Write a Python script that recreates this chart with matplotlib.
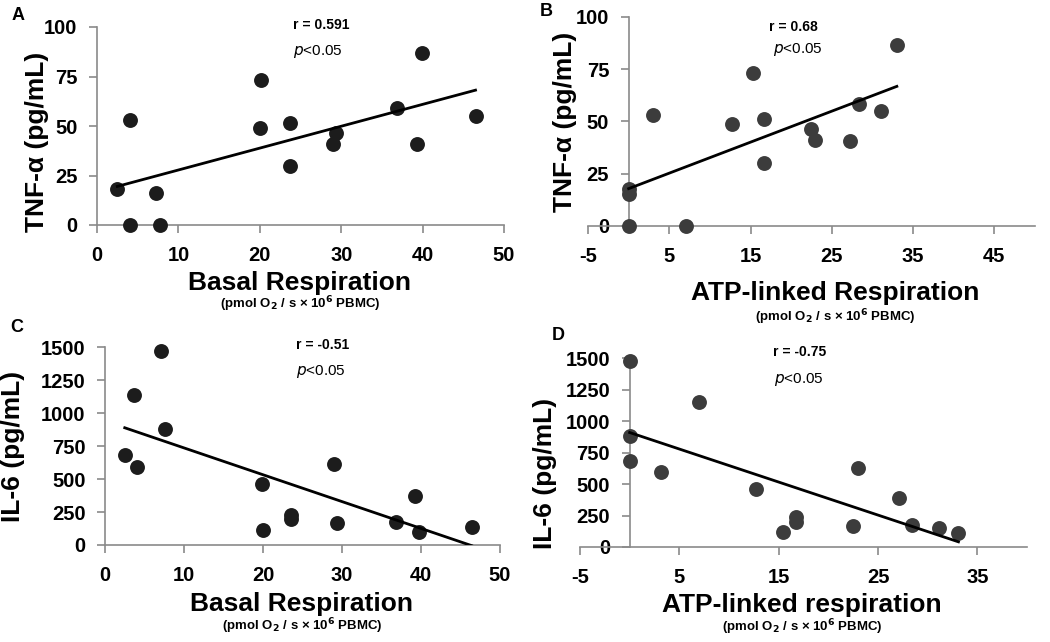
import matplotlib
matplotlib.use("Agg")
import matplotlib.pyplot as plt
import numpy as np

plt.rcParams['font.family'] = ['Liberation Sans', 'DejaVu Sans']
plt.rcParams['axes.unicode_minus'] = False

# data
basal_tnf = [2.5, 4.1, 4.0, 7.2, 7.7, 20.2, 20.0, 23.7, 23.7, 29.0, 29.4, 36.8, 39.3, 39.9, 46.5]
tnf_basal = [18.0, 53.2, 0.0, 16.0, 0.0, 73.1, 48.8, 51.7, 30.0, 41.1, 46.5, 58.9, 40.7, 86.9, 55.1]

atp_tnf = [0.0, 0.0, 0.0, 7.0, 3.0, 12.7, 15.3, 16.6, 16.6, 22.4, 22.9, 27.2, 28.3, 31.0, 33.0]
tnf_atp = [17.7, 15.5, 0.0, 0.0, 53.3, 48.8, 73.0, 51.4, 30.1, 46.6, 41.0, 40.7, 58.4, 55.0, 86.6]

basal_il6 = [2.5, 4.0, 3.7, 7.1, 7.6, 19.9, 20.0, 23.5, 23.6, 29.0, 29.4, 36.8, 39.2, 39.8, 46.4]
il6_basal = [679, 588, 1136, 1472, 879, 460, 116, 197, 225, 616, 167, 177, 374, 101, 136]

atp_il6 = [0.0, 0.0, 0.0, 3.2, 7.0, 12.7, 15.4, 16.7, 16.7, 22.5, 23.0, 27.1, 28.4, 31.1, 33.1]
il6_atp = [1475, 879, 679, 597, 1150, 462, 122, 236, 199, 170, 627, 388, 175, 149, 112]

W, H = 1050, 642
fig = plt.figure(figsize=(W / 100, H / 100), dpi=100)


def box(l, r, t, b):
    return [l / W, 1 - b / H, (r - l) / W, (b - t) / H]


panels = [
    dict(rect=box(97, 504, 27, 225), x=basal_tnf, y=tnf_basal, xlim=(0, 50), xt=range(0, 51, 10),
         ylim=(0, 100), yt=range(0, 101, 25), col='#1c1c1c', letter='A', lp=(18, 15),
         r='r = 0.591', rp=(321, 25), pp=(318, 52),
         ylab='TNF-α (pg/mL)', ylp=(37, 142), xlab='Basal Respiration', xlp=(300, 283), sp=(300, 304)),
    dict(rect=box(588, 1035, 17, 226), x=atp_tnf, y=tnf_atp, xlim=(-5, 50), xt=range(-5, 46, 10),
         ylim=(0, 100), yt=range(0, 101, 25), col='#3c3c3c', letter='B', lp=(546, 12),
         r='r = 0.68', rp=(793, 27), pp=(798, 50),
         ylab='TNF-α (pg/mL)', ylp=(565, 122), xlab='ATP-linked Respiration', xlp=(835, 293), sp=(835, 317)),
    dict(rect=box(105, 500, 347, 545), x=basal_il6, y=il6_basal, xlim=(0, 50), xt=range(0, 51, 10),
         ylim=(0, 1500), yt=range(0, 1501, 250), col='#1c1c1c', letter='C', lp=(17, 328),
         r='r = -0.51', rp=(323, 345), pp=(321, 372),
         ylab='IL-6 (pg/mL)', ylp=(13, 446), xlab='Basal Respiration', xlp=(302, 604), sp=(302, 626)),
    dict(rect=box(580, 1027, 358, 547), x=atp_il6, y=il6_atp, xlim=(-5, 40), xt=range(-5, 36, 10),
         ylim=(0, 1500), yt=range(0, 1501, 250), col='#3c3c3c', letter='D', lp=(558, 335),
         r='r = -0.75', rp=(800, 352), pp=(799, 379),
         ylab='IL-6 (pg/mL)', ylp=(545, 473), xlab='ATP-linked respiration', xlp=(802, 605), sp=(802, 627)),
]


def ftext(px, py, s, **kw):
    fig.text(px / W, 1 - py / H, s, ha='center', va='center', **kw)


for p in panels:
    ax = fig.add_axes(p['rect'])
    ax.scatter(p['x'], p['y'], s=115, color=p['col'], zorder=3, clip_on=False, linewidths=0)
    k, b = np.polyfit(p['x'], p['y'], 1)
    xs = np.array([min(p['x']), max(p['x'])])
    ax.plot(xs, k * xs + b, color='black', lw=2, zorder=4)
    ax.set_xlim(*p['xlim'])
    ax.set_ylim(*p['ylim'])
    ax.set_xticks(list(p['xt']))
    ax.set_yticks(list(p['yt']))
    for s in ['top', 'right']:
        ax.spines[s].set_visible(False)
    for s in ['left', 'bottom']:
        ax.spines[s].set_color('#8a8a8a')
        ax.spines[s].set_linewidth(1.2)
    ax.spines['left'].set_position(('data', 0))
    ax.tick_params(colors='#8a8a8a', length=6, width=1.2, direction='out')
    ax.tick_params(axis='x', pad=9)
    ax.tick_params(axis='y', pad=8)
    for lab in ax.get_xticklabels() + ax.get_yticklabels():
        lab.set_color('black')
        lab.set_fontweight('bold')
        lab.set_fontsize(14.5)
    ax.patch.set_alpha(0)

    ftext(*p['lp'], p['letter'], fontsize=13, fontweight='bold')
    ftext(*p['rp'], p['r'], fontsize=10, fontweight='bold')
    ftext(*p['pp'], r'$\it{p}$<0.05', fontsize=11)
    ftext(*p['ylp'], p['ylab'], fontsize=19, fontweight='bold', rotation=90)
    ftext(*p['xlp'], p['xlab'], fontsize=19, fontweight='bold')
    ftext(*p['sp'], r'(pmol O$_\mathbf{2}$ / s × 10$^\mathbf{6}$ PBMC)', fontsize=9.5, fontweight='bold')

fig.savefig('out.png', dpi=100, facecolor='white')
